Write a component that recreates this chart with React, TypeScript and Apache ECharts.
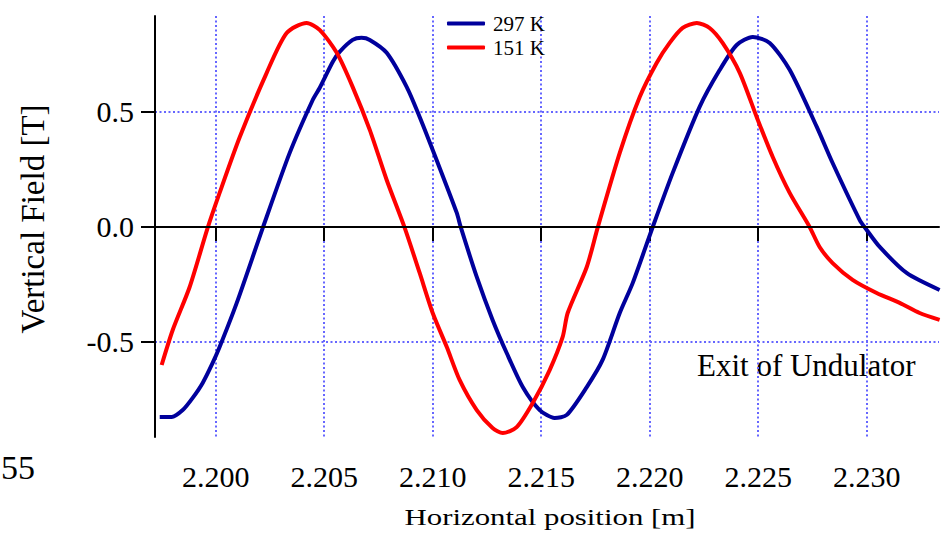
import React, { useEffect, useRef } from "react";
import * as echarts from "echarts";

const xTicks = [2.2, 2.205, 2.21, 2.215, 2.22, 2.225, 2.23];
const yTicks = [-0.5, 0, 0.5];
const seriesNames = ["297 K", "151 K"];

const blueX = [2.19742, 2.19797, 2.19848, 2.19894, 2.1994, 2.19986, 2.20018, 2.20097, 2.20217, 2.20341, 2.20447, 2.20479, 2.20539, 2.20571, 2.20631, 2.20672, 2.2071, 2.20788, 2.2088, 2.2094, 2.21018, 2.21111, 2.21129, 2.21203, 2.21276, 2.21341, 2.21415, 2.21493, 2.21562, 2.21618, 2.2171, 2.21783, 2.21862, 2.21922, 2.22014, 2.22106, 2.2223, 2.22323, 2.22401, 2.22475, 2.22553, 2.22645, 2.2277, 2.22843, 2.22968, 2.23, 2.2306, 2.23184, 2.23336];
const blueY = [-0.826, -0.826, -0.796, -0.743, -0.678, -0.591, -0.522, -0.33, -0.004, 0.322, 0.552, 0.604, 0.717, 0.761, 0.813, 0.822, 0.813, 0.757, 0.609, 0.478, 0.291, 0.061, 0, -0.217, -0.404, -0.548, -0.696, -0.796, -0.83, -0.817, -0.696, -0.578, -0.374, -0.243, 0, 0.235, 0.522, 0.683, 0.791, 0.826, 0.8, 0.683, 0.435, 0.278, 0.03, -0.013, -0.087, -0.2, -0.274];

const redX = [2.19751, 2.19802, 2.1988, 2.19963, 2.20018, 2.20111, 2.20235, 2.20327, 2.20419, 2.20479, 2.20558, 2.20631, 2.2071, 2.20788, 2.20871, 2.2094, 2.21, 2.21065, 2.21124, 2.21203, 2.21276, 2.21323, 2.21387, 2.21461, 2.21539, 2.21599, 2.21622, 2.2171, 2.2176, 2.21862, 2.21954, 2.22032, 2.22092, 2.22152, 2.22217, 2.22276, 2.22336, 2.22415, 2.22493, 2.22567, 2.22645, 2.22737, 2.22783, 2.22843, 2.22935, 2.23046, 2.23152, 2.23244, 2.23336];
const redY = [-0.6, -0.448, -0.261, -0.004, 0.148, 0.391, 0.67, 0.843, 0.887, 0.857, 0.757, 0.609, 0.422, 0.204, -0.004, -0.2, -0.374, -0.522, -0.665, -0.796, -0.874, -0.896, -0.87, -0.765, -0.622, -0.478, -0.374, -0.174, -0.004, 0.322, 0.565, 0.713, 0.8, 0.865, 0.887, 0.865, 0.8, 0.67, 0.478, 0.304, 0.148, 0, -0.087, -0.157, -0.23, -0.287, -0.33, -0.374, -0.404];

const FONT = "Liberation Serif";
const GRID_COLOR = "#6666ff";

export default function App() {
  const ref = useRef<HTMLDivElement>(null);
  useEffect(() => {
    const chart = echarts.init(ref.current as HTMLDivElement, null, { renderer: "svg" });
    const zip = (xs: number[], ys: number[]) => xs.map((x, i) => [x, ys[i]]);
    chart.setOption({
      animation: false,
      backgroundColor: "#fff",
      textStyle: { fontFamily: FONT },
      grid: { left: 155, top: 16, right: 7, bottom: 98, containLabel: false },
      legend: {
        orient: "vertical",
        left: 442,
        top: 8,
        itemWidth: 38,
        itemHeight: 4,
        itemGap: 3,
        icon: "roundRect",
        data: seriesNames,
        textStyle: { fontFamily: FONT, fontSize: 21, color: "#000", lineHeight: 21, padding: [0, 0, 0, 3] },
      },
      xAxis: {
        type: "value",
        min: 2.197203,
        max: 2.233332,
        axisLine: { show: true, lineStyle: { color: "#000", width: 2 } },
        axisTick: { show: true, length: 14, inside: false, customValues: xTicks, lineStyle: { color: "#000", width: 2 } },
        axisLabel: {
          customValues: xTicks,
          margin: 24,
          fontFamily: FONT,
          fontSize: 30,
          color: "#000",
          formatter: (v: number) => v.toFixed(3),
        },
        splitLine: { show: true, lineStyle: { color: GRID_COLOR, width: 2, type: [2, 2.5] } },
      },
      yAxis: {
        type: "value",
        min: -0.913,
        max: 0.917,
        axisLine: { show: true, lineStyle: { color: "#000", width: 2 } },
        axisTick: { show: true, length: 14, inside: false, customValues: yTicks, lineStyle: { color: "#000", width: 2 } },
        axisLabel: {
          customValues: yTicks,
          margin: 21,
          fontFamily: FONT,
          fontSize: 30,
          color: "#000",
          formatter: (v: number) => v.toFixed(1),
        },
        splitLine: { show: true, lineStyle: { color: GRID_COLOR, width: 2, type: [2, 2.5] } },
      },
      series: [
        {
          name: seriesNames[0],
          type: "line",
          data: zip(blueX, blueY),
          showSymbol: false,
          smooth: 0.25,
          lineStyle: { color: "#00009c", width: 4 },
          itemStyle: { color: "#00009c" },
          markLine: {
            silent: true,
            symbol: ["none", "none"],
            label: { show: false },
            lineStyle: { color: "#000", width: 2, type: "solid" },
            data: [{ yAxis: 0 }],
          },
        },
        {
          name: seriesNames[1],
          type: "line",
          data: zip(redX, redY),
          showSymbol: false,
          smooth: 0.25,
          lineStyle: { color: "#ff0000", width: 4 },
          itemStyle: { color: "#ff0000" },
        },
      ],
      graphic: [
        {
          type: "text",
          x: 697,
          y: 365,
          style: { text: "Exit of Undulator", fontFamily: FONT, fontSize: 31, fill: "#000", align: "left", verticalAlign: "middle" },
        },
        {
          type: "text",
          x: 550,
          y: 517,
          scaleX: 1.34,
          style: { text: "Horizontal position [m]", fontFamily: FONT, fontSize: 23, fill: "#000", align: "center", verticalAlign: "middle" },
        },
        {
          type: "text",
          x: 33,
          y: 219,
          rotation: Math.PI / 2,
          style: { text: "Vertical Field [T]", fontFamily: FONT, fontSize: 33, fill: "#000", align: "center", verticalAlign: "middle" },
        },
        {
          type: "text",
          x: 1,
          y: 467,
          style: { text: "55", fontFamily: FONT, fontSize: 34, fill: "#000", align: "left", verticalAlign: "middle" },
        },
      ],
    });
    return () => chart.dispose();
  }, []);
  return <div ref={ref} style={{ position: "fixed", left: 0, top: 0, width: 946, height: 535 }} />;
}
